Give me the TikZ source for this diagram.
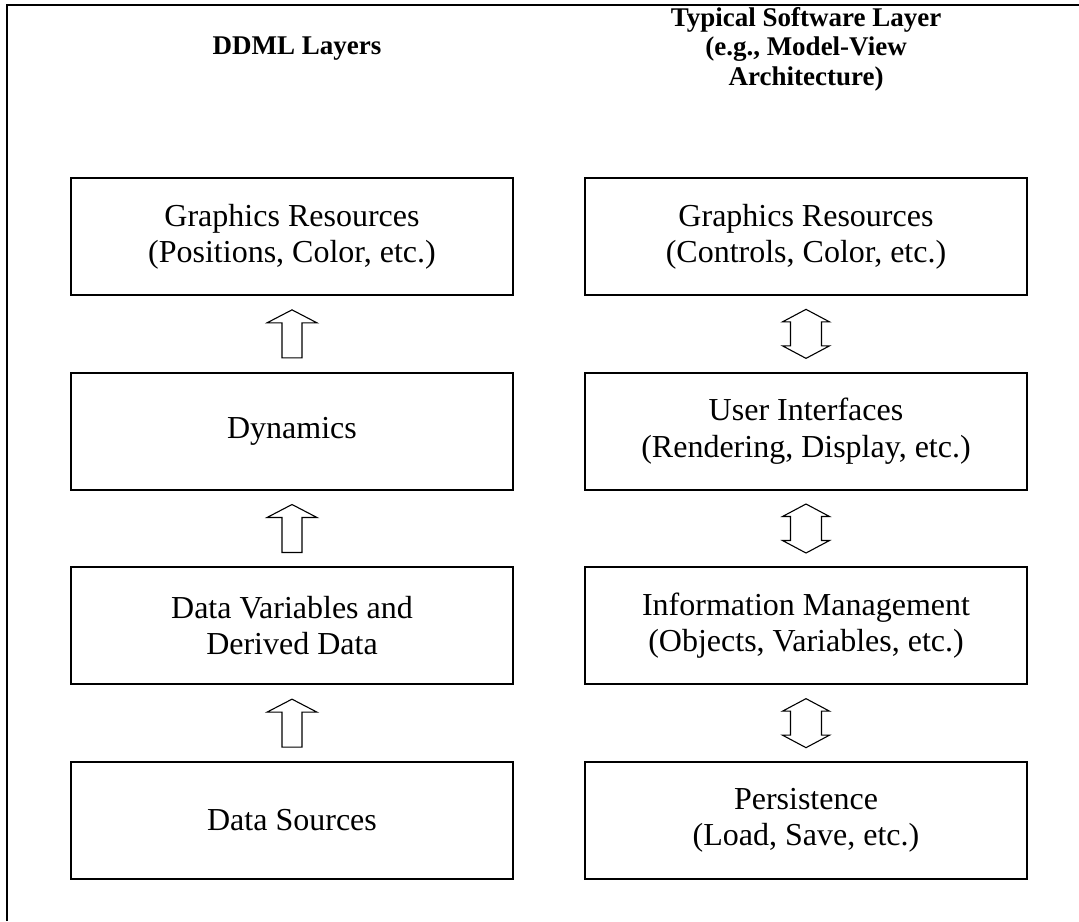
\documentclass[tikz,border=0pt]{standalone}
\usepackage{fontspec}
\setmainfont{Liberation Serif}
\usetikzlibrary{calc}
\tikzset{
  layerbox/.style={draw, line width=0.85pt, minimum width=221pt, minimum height=58.5pt,
    align=center, inner sep=0pt, font=\fontsize{16}{18.2}\selectfont},
  heading/.style={align=center, font=\fontsize{13.5}{14.8}\selectfont\bfseries, inner sep=0pt},
  blockarrow/.style={draw, line width=0.55pt, fill=white, line join=miter},
  frameline/.style={line width=0.9pt}
}
\begin{document}
\begin{tikzpicture}[x=0.5pt,y=-0.5pt]
\useasboundingbox (0,0) rectangle (1079,921);
% outer frame (only top and left edges visible)
\coordinate (fa) at (7,921);
\coordinate (fb) at (7,5);
\coordinate (fc) at (1079,5);
\draw[frameline] (fa) -- (fb) -- (fc);

% headings
\node[heading] (hl) at (297,49) {DDML Layers};
\node[heading] (hr) at (806,49) {Typical Software Layer\\(e.g., Model-View\\Architecture)};

% left column
\node[layerbox] (l1) at (292,236.5) {Graphics Resources\\(Positions, Color, etc.)};
\node[layerbox] (l2) at (292,431.2) {Dynamics};
\node[layerbox] (l3) at (292,625.8) {Data Variables and\\Derived Data};
\node[layerbox] (l4) at (292,820.5) {Data Sources};

% right column
\node[layerbox] (r1) at (806,236.5) {Graphics Resources\\(Controls, Color, etc.)};
\node[layerbox] (r2) at (806,431.2) {User Interfaces\\(Rendering, Display, etc.)};
\node[layerbox] (r3) at (806,625.8) {Information Management\\(Objects, Variables, etc.)};
\node[layerbox] (r4) at (806,820.5) {Persistence\\(Load, Save, etc.)};

% single up arrows (left)
\foreach \a/\b in {l4/l3, l3/l2, l2/l1}{
  \coordinate (m) at ($(\a.north)!0.5!(\b.south)$);
  \draw[blockarrow] ($(m)+(-10,24)$) -- ($(m)+(-10,-11)$) -- ($(m)+(-25,-11)$)
    -- ($(m)+(0,-24)$) -- ($(m)+(25,-11)$) -- ($(m)+(10,-11)$) -- ($(m)+(10,24)$) -- cycle;
}
% double arrows (right)
\foreach \a/\b in {r4/r3, r3/r2, r2/r1}{
  \coordinate (m) at ($(\a.north)!0.5!(\b.south)$);
  \draw[blockarrow] ($(m)+(0,-24.5)$) -- ($(m)+(23.5,-12)$) -- ($(m)+(15.5,-12)$)
    -- ($(m)+(15.5,12)$) -- ($(m)+(23.5,12)$) -- ($(m)+(0,24.5)$)
    -- ($(m)+(-23.5,12)$) -- ($(m)+(-15.5,12)$) -- ($(m)+(-15.5,-12)$)
    -- ($(m)+(-23.5,-12)$) -- cycle;
}
\end{tikzpicture}
\end{document}
